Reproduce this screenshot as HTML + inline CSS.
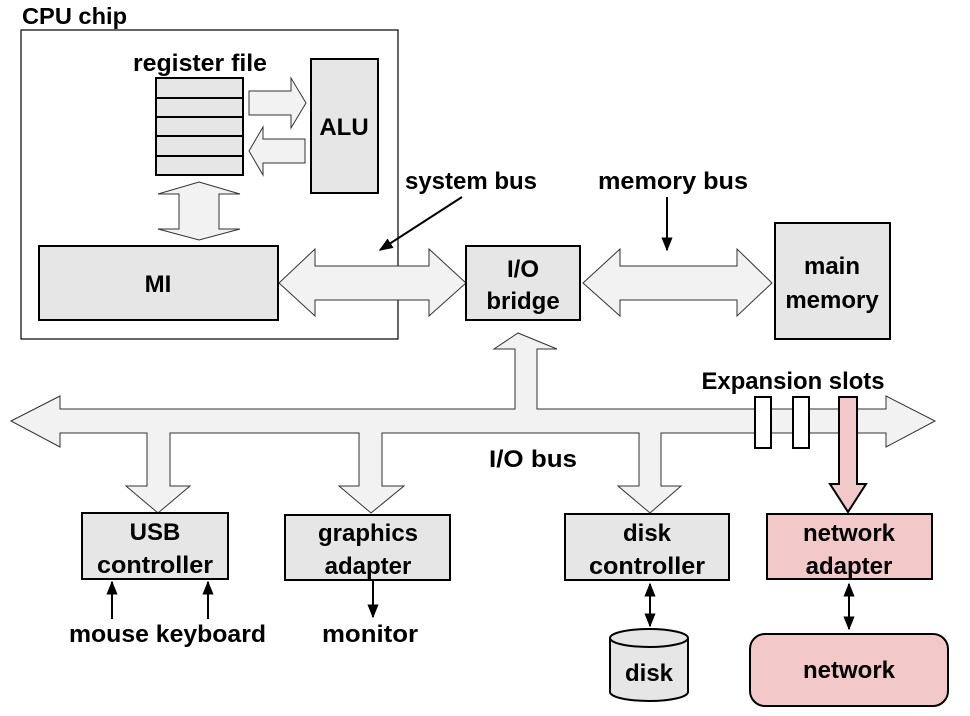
<!DOCTYPE html>
<html><head><meta charset="utf-8"><style>
html,body{margin:0;padding:0;background:#fff}
svg{display:block}
text{font-family:"Liberation Sans",sans-serif;font-weight:bold;fill:#000}
</style></head><body>
<svg width="970" height="716" viewBox="0 0 970 716" xmlns="http://www.w3.org/2000/svg">
<defs>
<marker id="ah" viewBox="0 0 10 10" refX="9" refY="5" markerWidth="7" markerHeight="7" orient="auto-start-reverse"><path d="M0,1 L10,5 L0,9 z" fill="#000"/></marker>
</defs>
<g font-size="24">
<text x="22" y="24" font-size="23" textLength="105" lengthAdjust="spacingAndGlyphs">CPU chip</text>
<rect x="21" y="30" width="377" height="309" fill="none" stroke="#000" stroke-width="1.2"/>
<text x="200" y="71" text-anchor="middle" textLength="134" lengthAdjust="spacingAndGlyphs">register file</text>
<rect x="156" y="78" width="87" height="97" fill="#e6e6e6" stroke="#000" stroke-width="2"/>
<g stroke="#000" stroke-width="2">
<line x1="156" y1="98" x2="243" y2="98"/><line x1="156" y1="117" x2="243" y2="117"/>
<line x1="156" y1="136" x2="243" y2="136"/><line x1="156" y1="156" x2="243" y2="156"/>
</g>
<rect x="311" y="59" width="67" height="134" fill="#e6e6e6" stroke="#000" stroke-width="2"/>
<text x="344" y="135" text-anchor="middle">ALU</text>
<g fill="#f2f2f2" stroke="#333" stroke-width="1">
<path d="M249,91 L291,91 L291,78 L306,103 L291,128 L291,115 L249,115 z"/>
<path d="M305,139 L263,139 L263,127 L249,151 L263,175 L263,163 L305,163 z"/>
<path d="M199,182 L240,194 L219,194 L219,229 L240,229 L199,240 L158,229 L179,229 L179,194 L158,194 z"/>
<path d="M279,283 L315,249 L315,266 L429,266 L429,249 L466,283 L429,316 L429,300 L315,300 L315,316 z"/>
<path d="M583,283 L620,249 L620,266 L737,266 L737,249 L772,283 L737,316 L737,300 L620,300 L620,316 z"/>
<path d="M11,421 L60,396 L60,409 L515,409 L515,349 L494,349 L518,333 L557,349 L537,349 L537,409 L886,409 L886,396 L935,421 L886,447 L886,433 L661,433 L661,486 L681,486 L650,513 L618,486 L639,486 L639,433 L382,433 L382,486 L404,486 L371,513 L339,486 L359,486 L359,433 L170,433 L170,486 L190,486 L158,513 L126,486 L147,486 L147,433 L60,433 L60,447 z"/>
</g>
<rect x="39" y="246" width="239" height="74" fill="#e6e6e6" stroke="#000" stroke-width="2"/>
<text x="158" y="292" text-anchor="middle">MI</text>
<text x="471" y="189" text-anchor="middle" textLength="132" lengthAdjust="spacingAndGlyphs">system bus</text>
<line x1="462" y1="197" x2="380" y2="250" stroke="#000" stroke-width="2" marker-end="url(#ah)"/>
<text x="673" y="189" text-anchor="middle" textLength="150" lengthAdjust="spacingAndGlyphs">memory bus</text>
<line x1="667" y1="197" x2="667" y2="250" stroke="#000" stroke-width="2" marker-end="url(#ah)"/>
<rect x="466" y="246" width="114" height="74" fill="#e6e6e6" stroke="#000" stroke-width="2"/>
<text x="523" y="277" text-anchor="middle">I/O</text>
<text x="523" y="309" text-anchor="middle">bridge</text>
<rect x="775" y="223" width="115" height="116" fill="#e6e6e6" stroke="#000" stroke-width="2"/>
<text x="832" y="274" text-anchor="middle">main</text>
<text x="832" y="308" text-anchor="middle">memory</text>
<text x="793" y="389" text-anchor="middle" textLength="183" lengthAdjust="spacingAndGlyphs">Expansion slots</text>
<rect x="755" y="397" width="16" height="51" fill="#fff" stroke="#000" stroke-width="2"/>
<rect x="793" y="397" width="16" height="51" fill="#fff" stroke="#000" stroke-width="2"/>
<path d="M839,397 L857,397 L857,484 L866,484 L848,512 L830,484 L839,484 z" fill="#f2c8c8" stroke="#000" stroke-width="2"/>
<text x="533" y="467" text-anchor="middle" textLength="88" lengthAdjust="spacingAndGlyphs">I/O bus</text>
<rect x="82" y="513" width="146" height="66" fill="#e6e6e6" stroke="#000" stroke-width="2"/>
<text x="155" y="540" text-anchor="middle">USB</text>
<text x="155" y="573" text-anchor="middle" textLength="116" lengthAdjust="spacingAndGlyphs">controller</text>
<rect x="285" y="515" width="165" height="65" fill="#e6e6e6" stroke="#000" stroke-width="2"/>
<text x="368" y="541" text-anchor="middle">graphics</text>
<text x="368" y="574" text-anchor="middle">adapter</text>
<rect x="565" y="514" width="164" height="66" fill="#e6e6e6" stroke="#000" stroke-width="2"/>
<text x="647" y="541" text-anchor="middle">disk</text>
<text x="647" y="574" text-anchor="middle" textLength="116" lengthAdjust="spacingAndGlyphs">controller</text>
<rect x="767" y="514" width="165" height="65" fill="#f2c8c8" stroke="#000" stroke-width="2"/>
<text x="849" y="541" text-anchor="middle">network</text>
<text x="849" y="574" text-anchor="middle">adapter</text>
<g stroke="#000" stroke-width="2">
<line x1="112" y1="619" x2="112" y2="582" marker-end="url(#ah)"/>
<line x1="208" y1="619" x2="208" y2="582" marker-end="url(#ah)"/>
<line x1="373" y1="580" x2="373" y2="617" marker-end="url(#ah)"/>
<line x1="650" y1="584" x2="650" y2="626" marker-start="url(#ah)" marker-end="url(#ah)"/>
<line x1="849" y1="584" x2="849" y2="629" marker-start="url(#ah)" marker-end="url(#ah)"/>
</g>
<text x="69" y="642" textLength="197" lengthAdjust="spacingAndGlyphs">mouse keyboard</text>
<text x="322" y="642" textLength="96" lengthAdjust="spacingAndGlyphs">monitor</text>
<path d="M610,638 L610,692 A39,9 0 0 0 688,692 L688,638" fill="#e6e6e6" stroke="#000" stroke-width="2"/>
<ellipse cx="649" cy="638" rx="39" ry="9" fill="#e6e6e6" stroke="#000" stroke-width="2"/>
<text x="649" y="681" text-anchor="middle">disk</text>
<rect x="750" y="634" width="198" height="72" rx="15" fill="#f2c8c8" stroke="#000" stroke-width="2"/>
<text x="849" y="678" text-anchor="middle">network</text>
</g>
</svg>
</body></html>
